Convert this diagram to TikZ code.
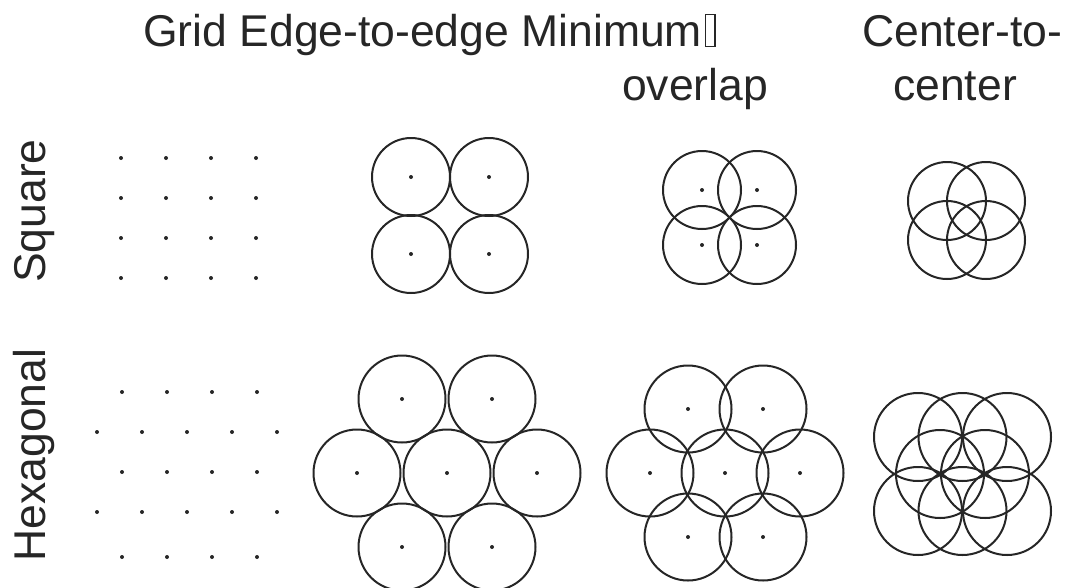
\documentclass[tikz,border=0pt]{standalone}
\usepackage{fontspec}
\setmainfont{Liberation Sans}
\usetikzlibrary{positioning}
\definecolor{ink}{HTML}{262626}
\newcommand{\missingglyph}{{\setlength{\fboxsep}{0pt}\setlength{\fboxrule}{1.2pt}\fbox{\rule{0pt}{31pt}\hspace{8pt}}}}
\tikzset{
  ring/.style={draw=ink, line width=2pt},
  dot/.style={fill=ink},
  lbl/.style={inner sep=0pt, text=ink, font=\fontsize{44.5}{50}\selectfont},
}

\begin{document}
\begin{tikzpicture}[x=1pt,y=-1pt]
    \useasboundingbox (0,0) rectangle (1078,587);

    % Column titles
    \node[lbl, anchor=base west] (head) at (143,46) {Grid Edge-to-edge Minimum\kern3pt\missingglyph};
    \node[lbl, anchor=base west] (ctc) at (862,46) {Center-to-};
    \node[lbl, anchor=base west] (ovl) at (622,100) {overlap};
    \node[lbl, anchor=base west] (ctr) at (893,100) {center};

    % Row titles
    \node[lbl, rotate=90, anchor=base] (sq) at (45,211) {Square};
    \node[lbl, rotate=90, anchor=base] (hx) at (45,455) {Hexagonal};

    % Square grid
    \foreach \i in {0,...,3}
        \foreach \j in {0,...,3}
            \fill[dot] (121+45*\i,158+40*\j) circle (2pt);

    % Hexagonal grid
    \foreach \y in {392,472,557}
        \foreach \x in {122,167,212,257}
            \fill[dot] (\x,\y) circle (2pt);
    \foreach \y in {432,512}
        \foreach \x in {97,142,187,232,277}
            \fill[dot] (\x,\y) circle (2pt);

    % Square, edge-to-edge
    \foreach \x/\y in {411/177,489/177,411/254,489/254} {
        \draw[ring] (\x,\y) circle (39pt);
        \fill[dot] (\x,\y) circle (2pt);
    }

    % Square, minimum overlap
    \foreach \x/\y in {702/190,757/190,702/245,757/245} {
        \draw[ring] (\x,\y) circle (39pt);
        \fill[dot] (\x,\y) circle (2pt);
    }

    % Square, center-to-center
    \foreach \x/\y in {947/201,986/201,947/240,986/240}
        \draw[ring] (\x,\y) circle (39pt);

    % Hexagonal, edge-to-edge
    \foreach \x/\y in {402/399,492/399,357/473,447/473,537/473,402/547,492/547} {
        \draw[ring] (\x,\y) circle (43.5pt);
        \fill[dot] (\x,\y) circle (2pt);
    }

    % Hexagonal, minimum overlap
    \foreach \x/\y in {688/409,763/409,650/473,725/473,800/473,688/537,763/537} {
        \draw[ring] (\x,\y) circle (43.5pt);
        \fill[dot] (\x,\y) circle (2pt);
    }

    % Hexagonal, center-to-center
    \foreach \x/\y in {918/437,962.5/437,1007/437,940/474,985/474,918/511,962.5/511,1007/511}
        \draw[ring] (\x,\y) circle (44pt);
\end{tikzpicture}
\end{document}
